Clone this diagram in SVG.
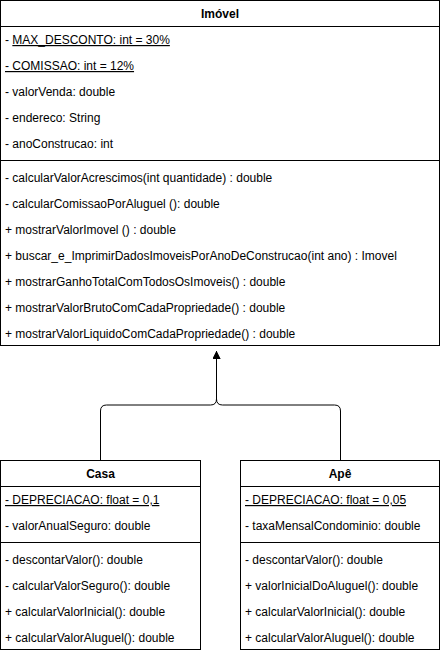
<svg xmlns="http://www.w3.org/2000/svg" width="441" height="654" viewBox="0 0 441 654">
<style>
.box{fill:#ffffff;stroke:#000000;stroke-width:1}
.sep{stroke:#000000;stroke-width:1;fill:none}
.t{font-family:"Liberation Sans",Arial,Helvetica,sans-serif;font-size:12px;fill:#000000}
.h{font-family:"Liberation Sans",Arial,Helvetica,sans-serif;font-size:12px;font-weight:bold;fill:#000000;text-anchor:middle}
.u{text-decoration:underline}
.edge{fill:none;stroke:#000000;stroke-width:1}
</style>
<defs>
<marker id="block" viewBox="0 0 10 10" refX="10" refY="5" markerWidth="8" markerHeight="8" markerUnits="userSpaceOnUse" orient="auto">
<path d="M0,0 L10,5 L0,10 Z" fill="#000000"/>
</marker>
</defs>
<rect width="441" height="654" fill="#ffffff"/>
<g id="connectors">
<path class="edge" d="M100.5,460 L100.5,411 Q100.5,405 106.5,405 L210.5,405 Q216.5,405 216.5,399 L216.5,351" marker-end="url(#block)"/>
<path class="edge" d="M340.5,460 L340.5,411 Q340.5,405 334.5,405 L222.5,405 Q216.5,405 216.5,399 L216.5,351" marker-end="url(#block)"/>
</g>
<g id="imovel">
<rect class="box" x="0.5" y="0.5" width="439" height="345"/>
<line class="sep" x1="0.5" y1="26.5" x2="439.5" y2="26.5"/>
<line class="sep" x1="0.5" y1="160.5" x2="439.5" y2="160.5"/>
<text class="h" x="220" y="18">Imóvel</text>
<text class="t" x="5" y="44">- <tspan class="u">MAX_DESCONTO: int = 30%</tspan></text>
<text class="t" x="5" y="70"><tspan class="u">- COMISSAO: int = 12%</tspan></text>
<text class="t" x="5" y="96">- valorVenda: double</text>
<text class="t" x="5" y="122">- endereco: String</text>
<text class="t" x="5" y="148">- anoConstrucao: int</text>
<text class="t" x="5" y="182">- calcularValorAcrescimos(int quantidade) : double</text>
<text class="t" x="5" y="208">- calcularComissaoPorAluguel (): double</text>
<text class="t" x="5" y="234">+ mostrarValorImovel () : double</text>
<text class="t" x="5" y="260">+ buscar_e_ImprimirDadosImoveisPorAnoDeConstrucao(int ano) : Imovel</text>
<text class="t" x="5" y="286">+ mostrarGanhoTotalComTodosOsImoveis() : double</text>
<text class="t" x="5" y="312">+ mostrarValorBrutoComCadaPropriedade() : double</text>
<text class="t" x="5" y="338">+ mostrarValorLiquidoComCadaPropriedade() : double</text>
</g>
<g id="casa">
<rect class="box" x="0.5" y="460.5" width="200" height="189"/>
<line class="sep" x1="0.5" y1="486.5" x2="200.5" y2="486.5"/>
<line class="sep" x1="0.5" y1="542.5" x2="200.5" y2="542.5"/>
<text class="h" x="100.5" y="478">Casa</text>
<text class="t" x="5" y="504"><tspan class="u">- DEPRECIACAO: float = 0,1</tspan></text>
<text class="t" x="5" y="530">- valorAnualSeguro: double</text>
<text class="t" x="5" y="564">- descontarValor(): double</text>
<text class="t" x="5" y="590">- calcularValorSeguro(): double</text>
<text class="t" x="5" y="616">+ calcularValorInicial(): double</text>
<text class="t" x="5" y="642">+ calcularValorAluguel(): double</text>
</g>
<g id="ape">
<rect class="box" x="240.5" y="460.5" width="199" height="189"/>
<line class="sep" x1="240.5" y1="486.5" x2="439.5" y2="486.5"/>
<line class="sep" x1="240.5" y1="542.5" x2="439.5" y2="542.5"/>
<text class="h" x="340" y="478">Apê</text>
<text class="t" x="245" y="504"><tspan class="u">- DEPRECIACAO: float = 0,05</tspan></text>
<text class="t" x="245" y="530">- taxaMensalCondominio: double</text>
<text class="t" x="245" y="564">- descontarValor(): double</text>
<text class="t" x="245" y="590">+ valorInicialDoAluguel(): double</text>
<text class="t" x="245" y="616">+ calcularValorInicial(): double</text>
<text class="t" x="245" y="642">+ calcularValorAluguel(): double</text>
</g>
</svg>
